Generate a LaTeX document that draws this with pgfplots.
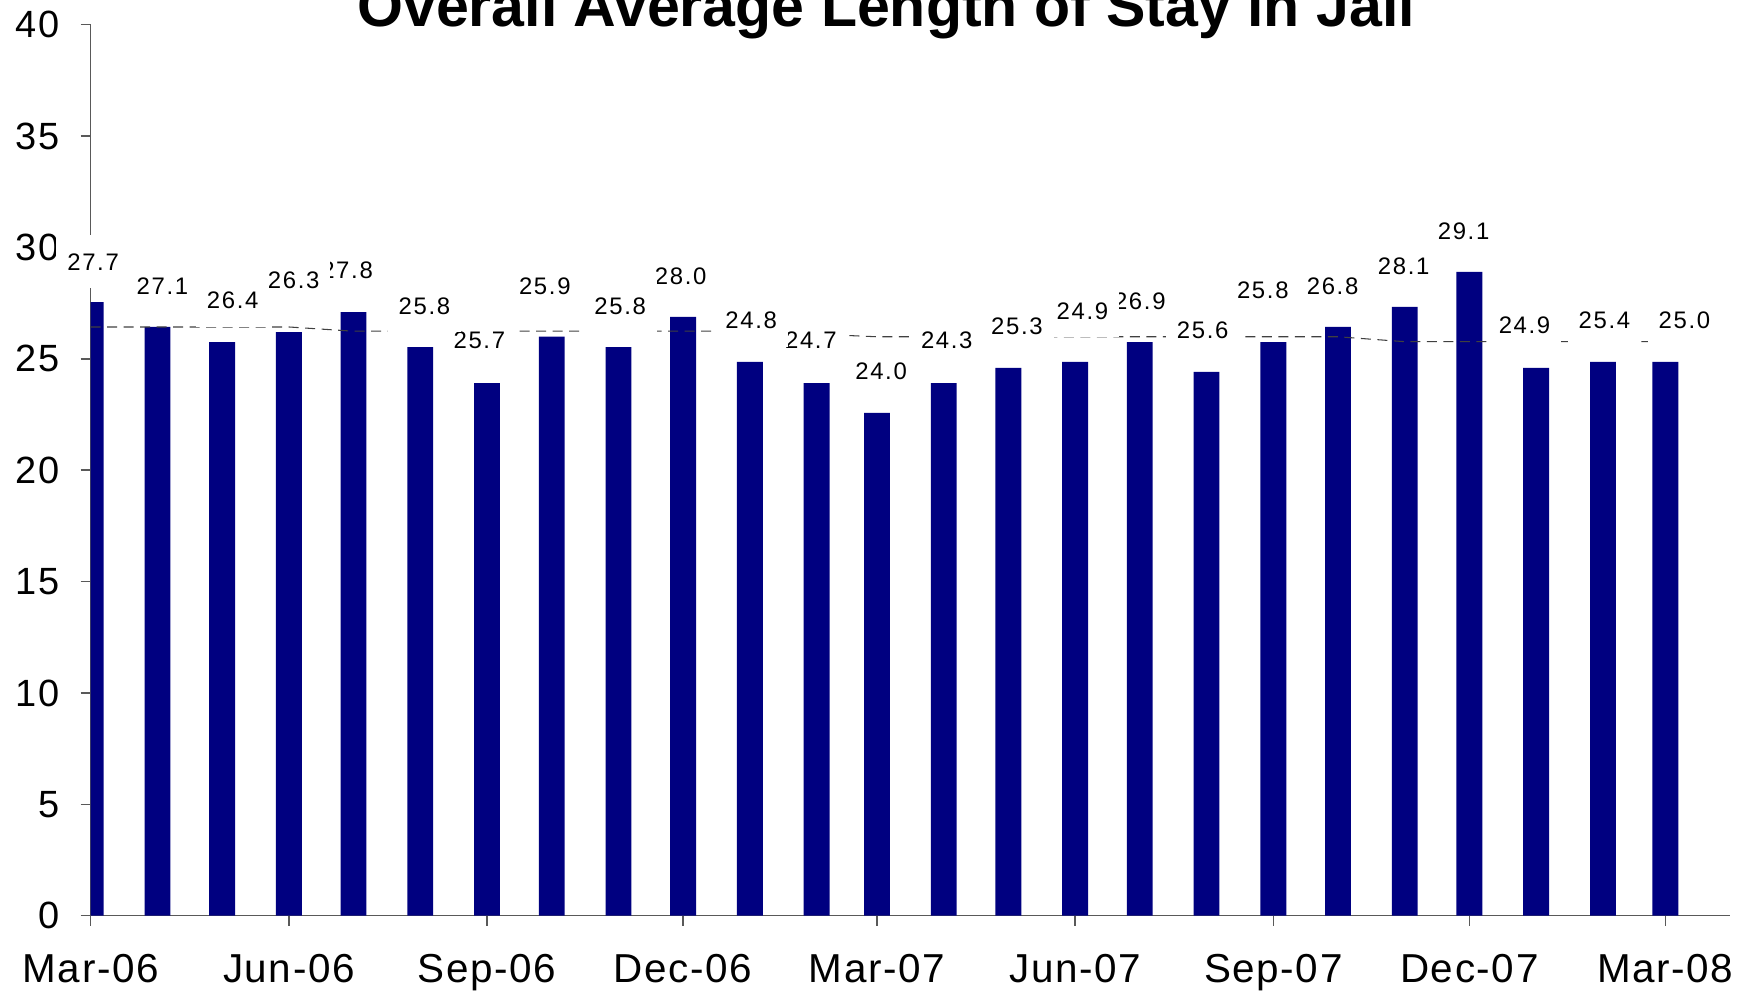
\documentclass[border=0pt]{standalone}
\usepackage{fontspec}
\setmainfont{Liberation Sans}
\newfontfamily\lblfont[LetterSpace=7]{Liberation Sans}
\newfontfamily\tickfont[LetterSpace=4]{Liberation Sans}
\usepackage{pgfplots}
\usepackage{pgfplotstable}
\pgfplotsset{compat=1.18}
\definecolor{barnavy}{HTML}{000080}

% x = days since 1 Mar 2006
\pgfplotstableread{
x   bar
0   27.55
31  26.43
61  25.75
92  26.20
122 27.10
153 25.53
184 23.91
214 26.00
245 25.53
275 26.88
306 24.86
337 23.91
365 22.57
396 23.91
426 24.59
457 24.86
487 25.75
518 24.41
549 25.75
579 26.43
610 27.33
640 28.90
671 24.59
702 24.86
731 24.86
}\bars

% data labels (listed last to first so earlier boxes sit on top)
\pgfplotstableread{
lx    ly    txt
739.8 26.71 25.0
702.7 26.74 25.4
665.6 26.50 24.9
637.3 30.74 29.1
609.5 29.17 28.1
576.5 28.27 26.8
544.1 28.06 25.8
516.2 26.26 25.6
487.0 27.60 26.9
460.4 27.15 24.9
430.0 26.47 25.3
397.4 25.85 24.3
366.9 24.42 24.0
334.3 25.85 24.7
306.6 26.71 24.8
273.9 28.72 28.0
245.8 27.37 25.8
210.8 28.27 25.9
180.4 25.85 25.7
154.9 27.37 25.8
119.0 28.96 27.8
94.2  28.51 26.3
65.9  27.61 26.4
33.3  28.27 27.1
1.1   29.36 27.7
}\labels

\begin{document}
\begin{tikzpicture}
\begin{axis}[
    name=ax,
    scale only axis,
    width=163.93mm, height=89.1mm,
    xmin=0, xmax=761,
    ymin=0, ymax=40,
    axis x line*=bottom,
    axis y line*=left,
    axis line style={black!65, line width=0.45pt},
    tick style={black!65, line width=0.45pt},
    tick align=outside,
    major tick length=1mm,
    xtick={0,92,184,275,365,457,549,640,731},
    xticklabels={Mar-06,Jun-06,Sep-06,Dec-06,Mar-07,Jun-07,Sep-07,Dec-07,Mar-08},
    ytick={0,5,...,40},
    /pgf/number format/assume math mode=true,
    xticklabel style={font=\tickfont\fontsize{11.5}{13}\selectfont, anchor=base, inner sep=0pt, yshift=-5.7mm},
    yticklabel style={font=\tickfont\fontsize{10.8}{12}\selectfont, anchor=east, inner sep=0pt, xshift=-2.06mm},
    every axis title shift=0pt,
    title={Overall Average Length of Stay in Jail},
    title style={at={(0.4852,1)}, anchor=base, inner sep=0pt, yshift=-0.13mm,
        font=\bfseries\fontsize{16.8}{20}\selectfont},
]

\addplot[ybar, bar width=12, fill=barnavy, draw=none] table[x=x, y=bar] {\bars};

% dashed average line
\addplot[black!75, line width=0.3pt, dash pattern=on 1mm off 0.65mm] coordinates {
    (0,26.43) (92,26.43) (122,26.24) (306,26.24) (365,25.99)
    (579,25.99) (610,25.77) (731,25.77)
};

\addplot[draw=none, nodes near coords, point meta=explicit symbolic,
    every node near coord/.append style={anchor=center, fill=white, text=black,
        inner xsep=1.1mm, inner ysep=1.8mm,
        font=\lblfont\fontsize{6.8}{8}\selectfont}]
    table[x=lx, y=ly, meta=txt] {\labels};

\end{axis}
\pgfresetboundingbox
\path[use as bounding box] ([xshift=-9.07mm, yshift=-8.03mm]ax.south west)
    rectangle ([xshift=166.43mm, yshift=91.57mm]ax.south west);
\end{tikzpicture}
\end{document}
